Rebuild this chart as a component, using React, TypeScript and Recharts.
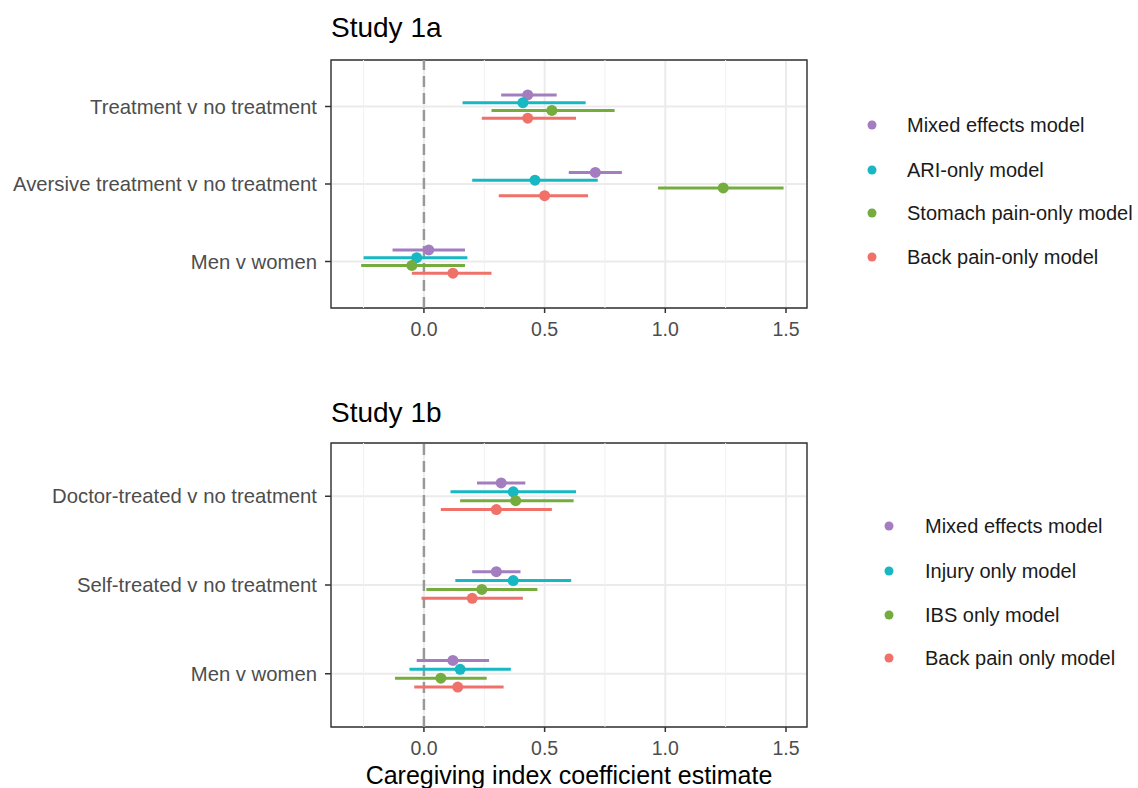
import {
  ScatterChart,
  Scatter,
  XAxis,
  YAxis,
  CartesianGrid,
  ReferenceLine,
  ReferenceArea,
  ErrorBar,
} from "recharts";

const FONT = '"Liberation Sans", Arial, Helvetica, sans-serif';

const seriesColors = ["#a37dbf", "#17b7c4", "#74ad3e", "#f0716a"];

// Study 1a
const termsA = [
  "Treatment v no treatment",
  "Aversive treatment v no treatment",
  "Men v women",
];
const modelsA = [
  "Mixed effects model",
  "ARI-only model",
  "Stomach pain-only model",
  "Back pain-only model",
];
const estA = [
  [0.43, 0.71, 0.02],
  [0.41, 0.46, -0.03],
  [0.53, 1.24, -0.05],
  [0.43, 0.5, 0.12],
];
const lowA = [
  [0.32, 0.6, -0.13],
  [0.16, 0.2, -0.25],
  [0.28, 0.97, -0.26],
  [0.24, 0.31, -0.05],
];
const highA = [
  [0.55, 0.82, 0.17],
  [0.67, 0.72, 0.18],
  [0.79, 1.49, 0.17],
  [0.63, 0.68, 0.28],
];

// Study 1b
const termsB = [
  "Doctor-treated v no treatment",
  "Self-treated v no treatment",
  "Men v women",
];
const modelsB = [
  "Mixed effects model",
  "Injury only model",
  "IBS only model",
  "Back pain only model",
];
const estB = [
  [0.32, 0.3, 0.12],
  [0.37, 0.37, 0.15],
  [0.38, 0.24, 0.07],
  [0.3, 0.2, 0.14],
];
const lowB = [
  [0.22, 0.2, -0.03],
  [0.11, 0.13, -0.06],
  [0.15, 0.01, -0.12],
  [0.07, -0.01, -0.04],
];
const highB = [
  [0.42, 0.4, 0.27],
  [0.63, 0.61, 0.36],
  [0.62, 0.47, 0.26],
  [0.53, 0.41, 0.33],
];

const xTicks = [0, 0.5, 1, 1.5];
const xMinor = [-0.25, 0.25, 0.75, 1.25];
const X_DOMAIN: [number, number] = [-0.385, 1.587];
const Y_DOMAIN: [number, number] = [0.4, 3.6];
const DODGE = 0.1;

function buildRows(est: number[][], low: number[][], high: number[][]) {
  return est.map((vals, s) =>
    vals.map((v, t) => ({
      x: v,
      y: t + 1 + (s - 1.5) * DODGE,
      err: [v - low[s][t], high[s][t] - v],
    }))
  );
}

function Panel({
  terms,
  rows,
  top,
  plotHeight,
}: {
  terms: string[];
  rows: { x: number; y: number; err: number[] }[][];
  top: number;
  plotHeight: number;
}) {
  const marginTop = 60;
  const height = marginTop + plotHeight + 50;
  return (
    <div style={{ position: "absolute", left: 0, top: top - marginTop }}>
      <ScatterChart
        width={820}
        height={height}
        margin={{ top: marginTop, right: 13, bottom: 10, left: 0 }}
      >
        <CartesianGrid stroke="#ebebeb" strokeWidth={2} />
        {xMinor.map((v) => (
          <ReferenceLine key={v} x={v} stroke="#f1f1f1" strokeWidth={1} />
        ))}
        <XAxis
          type="number"
          dataKey="x"
          domain={X_DOMAIN}
          ticks={xTicks}
          allowDataOverflow
          axisLine={false}
          tickSize={5}
          tickMargin={9}
          height={40}
          tickLine={{ stroke: "#333", strokeWidth: 1.5 }}
          tickFormatter={(v: number) => v.toFixed(1)}
          tick={{ fill: "#4d4d4d", fontSize: 19.5, fontFamily: FONT }}
        />
        <YAxis
          type="number"
          dataKey="y"
          domain={Y_DOMAIN}
          ticks={[1, 2, 3]}
          reversed
          allowDataOverflow
          axisLine={false}
          width={331}
          tickSize={6}
          tickMargin={8}
          tickLine={{ stroke: "#333", strokeWidth: 1.5 }}
          tickFormatter={(v: number) => terms[v - 1] ?? ""}
          tick={{ fill: "#4d4d4d", fontSize: 20.3, fontFamily: FONT }}
        />
        <ReferenceLine
          x={0}
          stroke="#999999"
          strokeWidth={2.5}
          strokeDasharray="11 6"
        />
        {rows.map((data, s) => (
          <Scatter
            key={s}
            data={data}
            isAnimationActive={false}
            shape={(p: any) => (
              <circle cx={p.cx} cy={p.cy} r={5.5} fill={seriesColors[s]} />
            )}
          >
            <ErrorBar
              dataKey="err"
              direction="x"
              width={0}
              stroke={seriesColors[s]}
              strokeWidth={3}
              isAnimationActive={false}
            />
          </Scatter>
        ))}
        <ReferenceArea
          x1={X_DOMAIN[0]}
          x2={X_DOMAIN[1]}
          y1={Y_DOMAIN[0]}
          y2={Y_DOMAIN[1]}
          fill="none"
          stroke="#333"
          strokeWidth={1.4}
        />
      </ScatterChart>
    </div>
  );
}

function Legend({
  models,
  dotX,
  textX,
  rowsY,
}: {
  models: string[];
  dotX: number;
  textX: number;
  rowsY: number[];
}) {
  return (
    <g>
      {models.map((m, i) => (
        <g key={m}>
          <circle cx={dotX} cy={rowsY[i]} r={4.5} fill={seriesColors[i]} />
          <text
            x={textX}
            y={rowsY[i] + 7}
            fontSize={20}
            fontFamily={FONT}
            fill="#1a1a1a"
          >
            {m}
          </text>
        </g>
      ))}
    </g>
  );
}

export default function App() {
  const rowsA = buildRows(estA, lowA, highA);
  const rowsB = buildRows(estB, lowB, highB);
  return (
    <div
      style={{
        position: "absolute",
        left: 0,
        top: 0,
        width: 1138,
        height: 788,
        background: "#fff",
        overflow: "hidden",
        fontFamily: FONT,
      }}
    >
      <style>{`.recharts-errorBar line, .recharts-errorBar path, .recharts-scatter line { stroke-width: 3px !important; }`}</style>
      <Panel terms={termsA} rows={rowsA} top={60} plotHeight={248} />
      <Panel terms={termsB} rows={rowsB} top={443} plotHeight={284} />
      <svg
        width={1138}
        height={788}
        style={{ position: "absolute", left: 0, top: 0, pointerEvents: "none" }}
      >
        <text x={331} y={37} fontSize={28} fontFamily={FONT} fill="#000">
          Study 1a
        </text>
        <text x={331} y={422} fontSize={28} fontFamily={FONT} fill="#000">
          Study 1b
        </text>
        <text
          x={569}
          y={784}
          fontSize={25}
          fontFamily={FONT}
          fill="#000"
          textAnchor="middle"
        >
          Caregiving index coefficient estimate
        </text>
        <Legend
          models={modelsA}
          dotX={872}
          textX={907}
          rowsY={[125, 170, 213, 257]}
        />
        <Legend
          models={modelsB}
          dotX={889}
          textX={925}
          rowsY={[526, 571, 615, 658]}
        />
      </svg>
    </div>
  );
}
